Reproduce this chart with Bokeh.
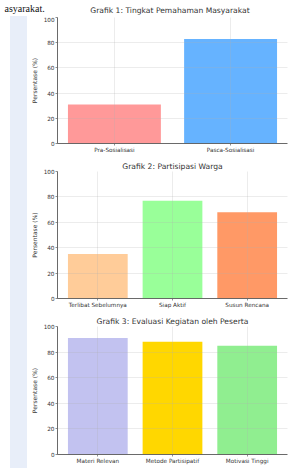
from bokeh.plotting import figure
from bokeh.layouts import row, column
from bokeh.models import Range1d, FixedTicker, Label, Div, Spacer, GlobalInlineStyleSheet
from bokeh.embed import file_html
from bokeh.resources import INLINE

# ---- data ----
page_text = "asyarakat."

title1 = "Grafik 1: Tingkat Pemahaman Masyarakat"
cats1 = ["Pra-Sosialisasi", "Pasca-Sosialisasi"]
vals1 = [31, 83]
colors1 = ["#ff9999", "#66b3ff"]

title2 = "Grafik 2: Partisipasi Warga"
cats2 = ["Terlibat Sebelumnya", "Siap Aktif", "Susun Rencana"]
vals2 = [35, 77, 68]
colors2 = ["#ffcc99", "#99ff99", "#ff9966"]

title3 = "Grafik 3: Evaluasi Kegiatan oleh Peserta"
cats3 = ["Materi Relevan", "Metode Partisipatif", "Motivasi Tinggi"]
vals3 = [91, 88, 85]
colors3 = ["#c2c2f0", "#ffd700", "#90ee90"]

y_ticks = [0, 20, 40, 60, 80, 100]
y_label = "Persentase (%)"

FONT = "DejaVu Sans"
TXT = "#333333"
TITLE_SIZE = "7.6px"
W_TOTAL = 289
H_TOTAL = 468
BAND_L = 10
BAND_W = 17
W_CHART = W_TOTAL - BAND_L - BAND_W   # 262
BORDER_L = 25
BORDER_R = 2


def make_chart(cats, vals, colors, title, height, top, bottom):
    n = len(cats)
    xs = list(range(n))
    m = 0.05 * (n - 1 + 0.8)
    p = figure(width=W_CHART, height=height,
               x_range=Range1d(-0.4 - m, n - 1 + 0.4 + m),
               y_range=Range1d(0, 100),
               output_backend="svg", toolbar_location=None,
               min_border_left=BORDER_L, min_border_right=BORDER_R,
               min_border_top=top, min_border_bottom=bottom)
    p.vbar(x=xs, top=vals, width=0.8, fill_color=colors, line_color=None)

    p.outline_line_color = None
    p.background_fill_color = "white"
    p.border_fill_color = "white"

    for g in (p.xgrid, p.ygrid):
        g.grid_line_color = "#b0b0b0"
        g.grid_line_alpha = 0.3
        g.grid_line_width = 0.8
        g.level = "annotation"
    p.xgrid.ticker = FixedTicker(ticks=xs)
    p.ygrid.ticker = FixedTicker(ticks=y_ticks)

    p.xaxis.ticker = FixedTicker(ticks=xs)
    p.xaxis.major_label_overrides = {i: c for i, c in enumerate(cats)}
    p.yaxis.ticker = FixedTicker(ticks=y_ticks)
    p.yaxis.axis_label = y_label

    for ax in (p.xaxis[0], p.yaxis[0]):
        ax.axis_line_color = "#444444"
        ax.axis_line_width = 0.8
        ax.major_tick_line_color = "#444444"
        ax.major_tick_line_width = 0.6
        ax.major_tick_out = 2
        ax.major_tick_in = 0
        ax.minor_tick_line_color = None
        ax.major_label_text_font = FONT
        ax.major_label_text_font_size = "5.7px"
        ax.major_label_text_color = TXT
        ax.major_label_standoff = 1
    p.yaxis.axis_label_text_font = FONT
    p.yaxis.axis_label_text_font_size = "6px"
    p.yaxis.axis_label_text_font_style = "normal"
    p.yaxis.axis_label_text_color = TXT
    p.yaxis.axis_label_standoff = 3

    if title:
        p.title.text = title
        p.title.align = "center"
        p.title.text_font = FONT
        p.title.text_font_size = TITLE_SIZE
        p.title.text_font_style = "normal"
        p.title.text_color = TXT
        p.title.standoff = 1
        p.title.offset = 0
    return p


# top strip: running page text + title of chart 1
strip_h = 16
strip = figure(width=W_TOTAL, height=strip_h,
               x_range=Range1d(0, W_TOTAL), y_range=Range1d(0, strip_h),
               output_backend="svg", toolbar_location=None,
               min_border=0)
strip.axis.visible = False
strip.grid.visible = False
strip.outline_line_color = None
strip.add_layout(Label(x=4, y=8, text=page_text, text_align="left",
                       text_baseline="middle",
                       text_font="Liberation Serif", text_font_size="10px",
                       text_color="#111111"))
frame_center = BAND_L + BAND_W + BORDER_L + (W_CHART - BORDER_L - BORDER_R) / 2
strip.add_layout(Label(x=frame_center, y=2, text=title1, text_align="center",
                       text_baseline="bottom",
                       text_font=FONT, text_font_size=TITLE_SIZE,
                       text_color=TXT))

p1 = make_chart(cats1, vals1, colors1, None, 139, 1, 11)
p2 = make_chart(cats2, vals2, colors2, title2, 155, 16, 11)
p3 = make_chart(cats3, vals3, colors3, title3, 158, 16, 14)

band_h = H_TOTAL - strip_h
band = Div(text="", width=BAND_W, height=band_h, margin=0,
           styles={"background-color": "#e8eef9"})
layout = column(strip,
                row(Spacer(width=BAND_L, height=band_h, margin=0), band,
                    column(p1, p2, p3)))
layout.stylesheets = [GlobalInlineStyleSheet(
    css="html, body { margin: 0 !important; padding: 0 !important; overflow: hidden; }")]

open("out.html", "w").write(file_html(layout, INLINE))
